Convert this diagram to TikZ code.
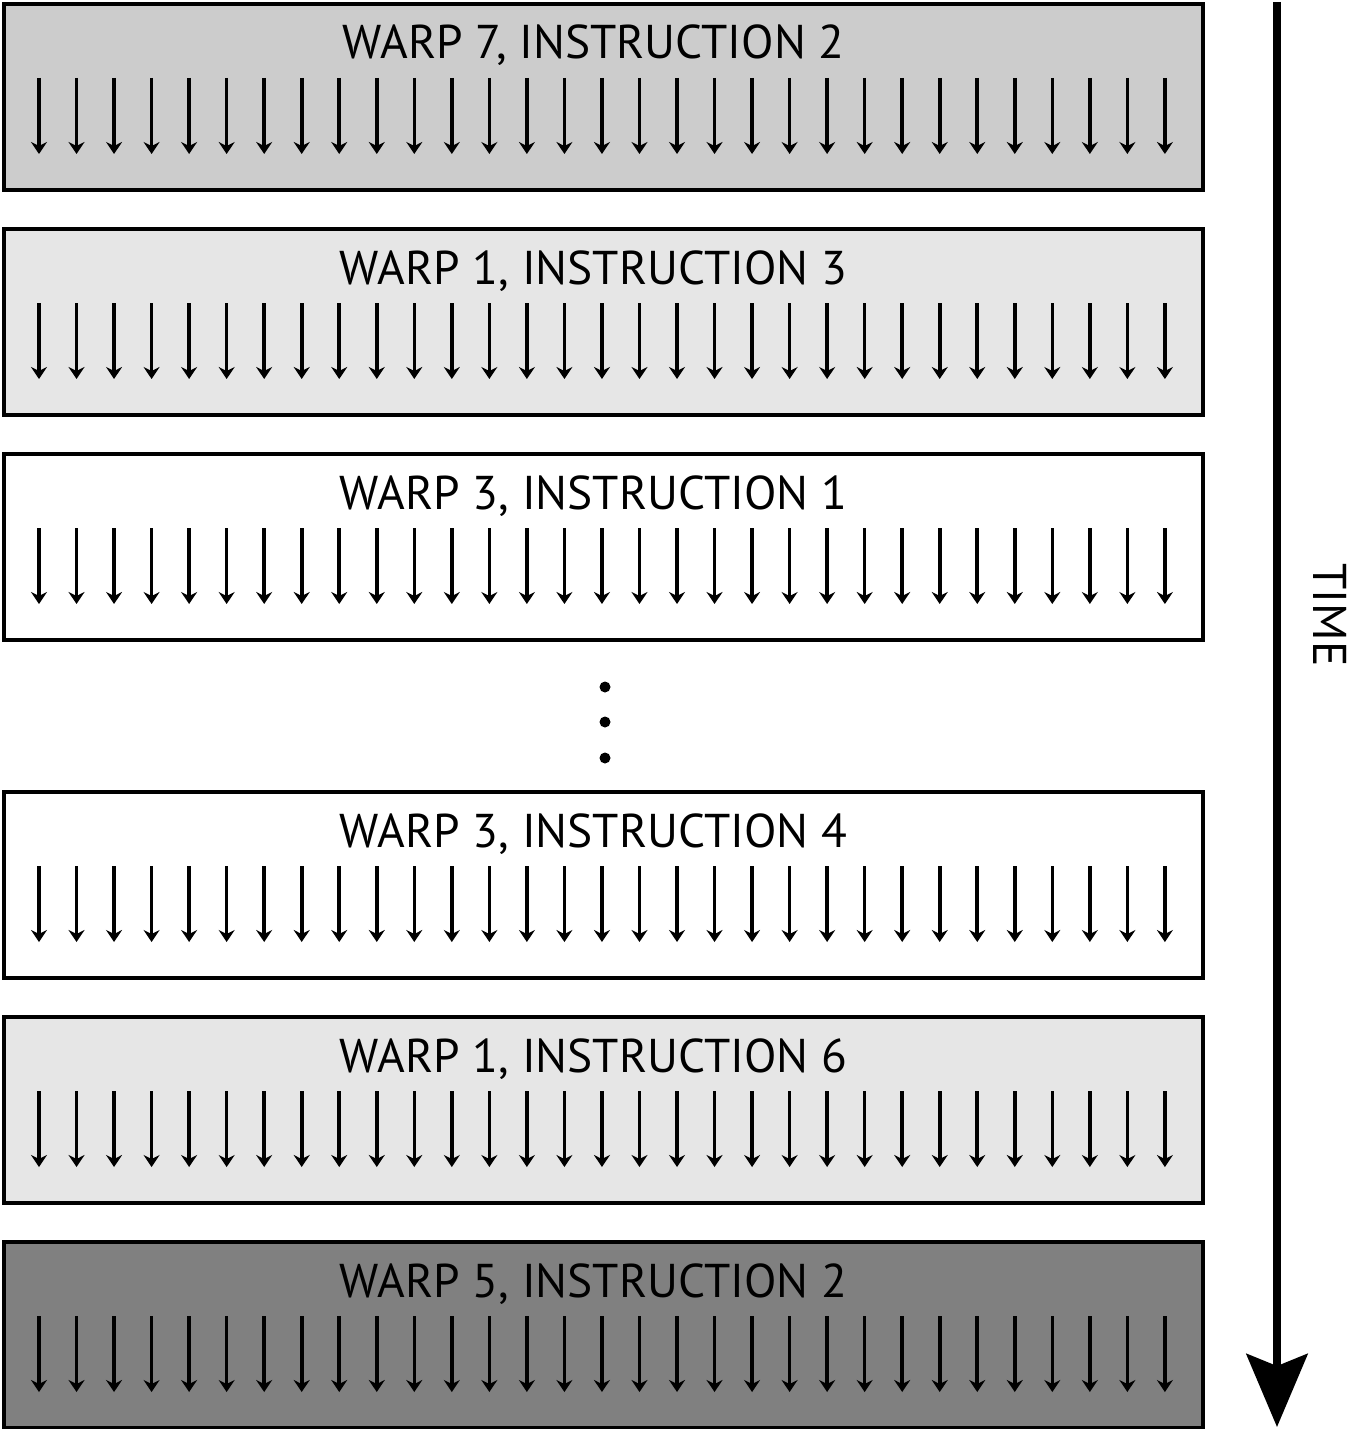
\documentclass[tikz,border=0pt]{standalone}
\usepackage{fontspec}
\setmainfont{PT Sans}
\usepackage{tikz}
\usetikzlibrary{arrows.meta,positioning,calc}
\definecolor{ink}{HTML}{000000}
\definecolor{warpmid}{HTML}{CCCCCC}
\definecolor{warplight}{HTML}{E6E6E6}
\definecolor{warpdark}{HTML}{808080}

\begin{document}
\begin{tikzpicture}[
  x=0.5pt, y=-0.5pt,
  box/.style={draw=ink, line width=2pt, minimum width=599.5pt, minimum height=93pt, inner sep=0pt, anchor=north west},
  warplabel/.style={font=\fontsize{23.7}{28}\selectfont, anchor=base, inner sep=0pt},
  lane/.style={-{Stealth[length=6pt, width=8pt, inset=2pt]}, draw=ink, line width=1.8pt},
  timeline/.style={-{Stealth[length=36.5pt, width=30.5pt, inset=6pt]}, draw=ink, line width=4pt},
  dot/.style={circle, fill=ink, inner sep=0pt, minimum size=5.5pt}
]
\useasboundingbox (0,0) rectangle (1356,1429);

% issued warps, one row per slot
\foreach \i/\top/\shade/\warp/\instr in {
1/2/warpmid/7/2,
2/227/warplight/1/3,
3/452/white/3/1,
4/790/white/3/4,
5/1015/warplight/1/6,
6/1240/warpdark/5/2
}{
  \node[box, fill=\shade] (warp\i) at (2,\top) {};
  \node[warplabel] (name\i) at ($(warp\i.north)+(-10,57)$) {WARP \warp, INSTRUCTION \instr};
  \foreach \k in {0,...,30}
    \draw[lane] (39+\k*37.53,\top+76) -- (39+\k*37.53,\top+152);
}

% skipped slots
\node[dot] (dot1) at (605,687) {};
\node[dot] (dot2) at (605,722) {};
\node[dot] (dot3) at (605,758) {};

% time axis
\coordinate (tstart) at (1277,2);
\coordinate (tend) at (1277,1427);
\draw[timeline] (tstart) -- (tend);
\node[warplabel, anchor=center, rotate=-90] (time) at (1330,615) {TIME};

\end{tikzpicture}
\end{document}
